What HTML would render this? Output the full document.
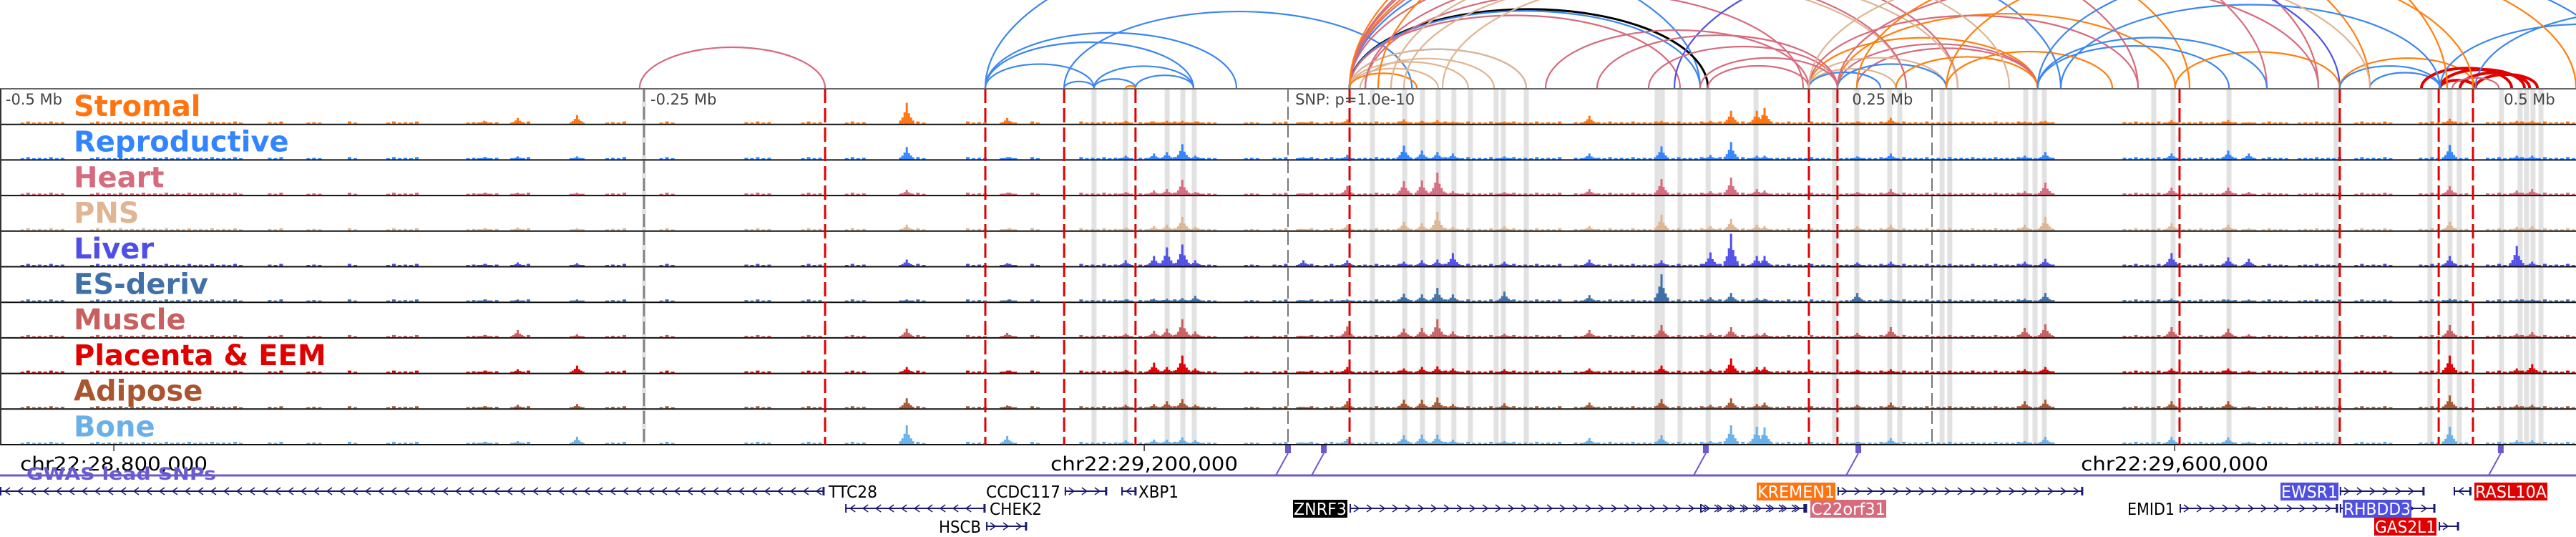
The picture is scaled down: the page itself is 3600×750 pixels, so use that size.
<!DOCTYPE html>
<html><head><meta charset="utf-8"><style>
html,body{margin:0;padding:0;background:#fff;}
svg{display:block;}
</style></head>
<body>
<svg id="chart" xmlns="http://www.w3.org/2000/svg" width="3600" height="750" viewBox="0 0 3600 750"></svg>
<script>
// ---- data ----
const tissues = ["Stromal","Reproductive","Heart","PNS","Liver","ES-deriv","Muscle","Placenta & EEM","Adipose","Bone"];
const tissueColors = ["#ff7410","#3385ff","#d66b7e","#dfb592","#4f4fe6","#4070a8","#c86060","#e00000","#a85530","#6ab0e8"];
const peakKb = [-312,-299,-276,-148,-109,-63,-52,-47,-41,-36,6,23,45,52,58,64,84,117,145,164,172,182,185,221,234,286,294,343,365,373,451,477,483];
const hStromal = [4,8,12,29,8,4,3,4,4,3,2,6,6,4,5,3,3,11,4,4,18,18,22,3,8,3,4,5,5,2,7,4,4];
const hReproductive = [3,4,4,17,3,5,8,10,21,5,3,6,19,12,10,8,4,8,18,6,24,5,5,4,8,5,10,8,12,8,20,5,5];
const hHeart = [2,3,3,7,3,4,6,8,21,4,2,12,19,20,31,5,4,8,22,5,24,8,6,4,8,5,17,10,10,4,12,6,8];
const hPNS = [2,4,3,8,2,4,6,8,19,5,2,8,12,10,26,5,6,6,22,6,16,8,6,6,8,8,19,10,8,3,12,5,6];
const hLiver = [3,5,4,9,4,8,14,26,30,8,8,8,6,8,9,18,6,9,8,19,45,14,14,5,6,6,10,18,12,10,14,28,6];
const hES = [2,3,3,3,2,3,4,4,5,8,2,3,11,10,19,10,14,9,38,6,12,5,4,12,3,4,12,4,3,3,4,3,3];
const hMuscle = [3,10,4,12,6,5,9,12,25,8,2,15,12,13,25,8,5,10,17,6,14,5,6,6,14,13,18,14,12,4,17,5,7];
const hPlacenta = [2,5,10,8,3,4,14,8,24,6,2,8,6,8,9,6,5,6,10,5,20,8,8,4,5,5,8,6,6,3,24,6,12];
const hAdipose = [3,5,6,14,4,5,6,10,13,5,2,10,12,12,15,6,7,8,13,5,14,6,8,5,8,10,12,10,10,3,18,5,5];
const hBone = [3,4,10,26,11,5,6,6,9,5,2,7,12,13,13,6,4,8,12,4,26,24,23,3,8,4,10,10,9,3,24,5,5];
const peakHeights = [hStromal,hReproductive,hHeart,hPNS,hLiver,hES,hMuscle,hPlacenta,hAdipose,hBone];
const baseSegKb = [[-492,-476],[-465,-407],[-396,-390],[-381,-376],[-365,-361],[-350,-338],[-319,-306],[-300,-294],[-265,-258],[-244,-239],[-211,-201],[-189,-181],[-172,-164],[-151,-142],[-125,-118],[-111,-106],[-100,-96],[-81,-61],[-58,-28],[-17,-11],[-6,0],[4,11],[14,25],[27,106],[111,164],[167,211],[214,297],[324,346],[347,369],[378,389],[392,408],[414,428],[439,458],[465,500]];
const bandKb = [-75.3,-63.1,-46.9,-40.8,-36.4,32.8,45.3,52.2,58.3,64.4,70.8,80.8,83.6,92.5,143.3,145.3,152.2,163.1,181.7,212.2,220.8,233.6,237.5,253.9,256.9,286.4,290,293.6,336.1,343.6,365.3,406.9,443.3,451.1,454.7,471.1,478.3,480.8,483.3,486.4];
const redLineKb = [-179.7,-117.5,-86.9,-59.2,23.9,202.2,213.3,346.1,408.3,446.7,460];
const grayLineKb = [-250,0,250];
const axisLabels = ["-0.5 Mb","-0.25 Mb","SNP: p=1.0e-10","0.25 Mb","0.5 Mb"];
const axisLabelKb = [-497.8,-247.5,2.8,219,472];
const arcStartKb = [-251.7,-117.5,-117.5,-117.5,-86.9,-86.9,-75.3,-75.3,-59.2,-63,23.9,23.9,23.9,23.9,23.9,23.9,23.9,30,23.9,23.9,23.9,28,23.9,23.9,35,150,163,140,202.2,213.3,213.3,220.8,202.2,202.2,213.3,202.2,291,344.4,408.3,408.3,420,447.2,447.2,440,461,300,447.2,461,455,452,
  23.9,23.9,23.9,60,45,202.2,213.3,236,255.6,100,120,291,-117.5,30,40,202.2,220.8,160,255.6,291];
const arcEndKb   = [-179.7,-75.3,-36.7,160,48.1,-75.3,-59.2,-36.7,-36.7,-59.2,163,92.5,160,300,152.2,260,400,200,58.3,70,92.5,80,50,350,420,408.3,202.2,213.3,291,344.4,291,291,236,255.6,255.6,230,365.3,408.3,461,447.2,447.2,461,480,475,485,447.2,560,600,482,470,
  330,380,450,260,240,330,400,291,320,202.2,213.3,380,-20,240,280,420,460,213.3,500,520];
const arcColorIdx = [2,1,1,1,1,1,1,1,1,0,10,1,1,1,2,2,2,2,3,3,3,3,0,0,0,4,2,2,0,0,2,2,3,3,1,1,1,0,0,1,1,7,7,7,7,1,1,1,7,2,
  2,2,0,3,3,2,2,0,0,2,2,1,1,2,3,3,0,2,0,1];
const arcPalette = ["#ff7f0e","#3c86f0","#d66b7e","#dfb592","#4f4fe6","#4070a8","#c86060","#e00000","#a85530","#6ab0e8","#000000"];
const chrTicks = ["chr22:28,800,000","chr22:29,200,000","chr22:29,600,000"];
const chrTickKb = [-455.8,-55.8,344.2];
const snpKb = [0,13.9,162.2,221.4,470.8];
const geneNames = ["TTC28","CCDC117","XBP1","CHEK2","HSCB","ZNRF3","C22orf31","KREMEN1","EMID1","EWSR1","RHBDD3","RASL10A","GAS2L1"];
const geneRow = [0,0,0,1,2,1,1,0,1,0,1,0,2];
const geneStartKb = [-500,-86.7,-64.7,-171.9,-117.2,23.9,160,213.3,346.1,408.3,408.3,452.5,446.7];
const geneEndKb = [-180.3,-70.6,-59.2,-117.8,-101.7,200.5,201.1,308.3,407.2,440.8,445,459,454.2];
const geneStrand = [-1,1,-1,-1,1,1,1,1,1,1,1,-1,1];
const geneBox = ["","","","","","#000","#d66b7e","#ff7410","","#5050e0","#5050e0","#e00000","#e00000"];
const geneLabelX0 = [1157,1377,1590,1382,1311,1807,2530,2455,2972,3187,3274,3458,3318];
const geneLabelX1 = [1227,1483,1648,1457,1372,1883,2636,2565,3040,3268,3370,3560,3405];

// ---- helpers ----
const NS="http://www.w3.org/2000/svg";
const svg=document.getElementById('chart');
const X = kb => 1800 + kb*3.6;
const TOP=124, TH=49.7, NT=10, BOT=TOP+TH*NT;
function mk(tag, attrs, parent){const e=document.createElementNS(NS,tag);for(const k in attrs)e.setAttribute(k,attrs[k]);(parent||svg).appendChild(e);return e;}

const gBands=mk('g',{});


bandKb.forEach(kb=>{
  const r=mk('rect',{x:X(kb)-3.5,y:TOP,width:7,height:BOT-TOP,fill:'#e2e2e2'},gBands);
  
  
});
mk('rect',{x:X(-250)-3,y:TOP,width:6,height:BOT-TOP,fill:'#e2e2e2'},gBands);

for(let t=0;t<NT;t++){
  const top=TOP+t*TH, base=top+TH-1;
  const g=mk('g',{fill:tissueColors[t]});
  
  
  baseSegKb.forEach(s=>{
    const x0=X(s[0]),x1=X(s[1]);
    for(let x=x0;x<x1;x+=8){ const k=Math.floor(x/8)%4; const hh=k===0?3:(k===2?2:1.5); mk('rect',{x:x,y:base-hh,width:5,height:hh},g); }
  });
  peakKb.forEach((kb,i)=>{
    const h=peakHeights[t][i]; const cx=X(kb);
    const offs=[-9,-6,-3,0,3,6,9], fr=[0.15,0.3,0.55,1,0.5,0.3,0.15];
    offs.forEach((o,j)=>{ const hh=Math.max(1.5,h*fr[j]); mk('rect',{x:cx+o-1.5,y:base-hh,width:3,height:hh},g); });
  });
  const line=mk('line',{x1:0,x2:3600,y1:top+TH,y2:top+TH,stroke:'#111','stroke-width':2});
  
  
  const lbl=mk('text',{x:103,y:top+38,'font-family':'DejaVu Sans, sans-serif','font-weight':'bold','font-size':40,fill:tissueColors[t]});
  lbl.textContent=tissues[t];
  
  
}
mk('line',{x1:0,x2:3600,y1:TOP,y2:TOP,stroke:'#666','stroke-width':2});
mk('line',{x1:1,x2:1,y1:TOP,y2:BOT,stroke:'#333','stroke-width':2});

grayLineKb.forEach(kb=>{
  const l=mk('line',{x1:X(kb),x2:X(kb),y1:TOP,y2:BOT,stroke:'#777','stroke-width':2,'stroke-dasharray':'18 7'});
  
  
});
redLineKb.forEach(kb=>{
  const l=mk('line',{x1:X(kb),x2:X(kb),y1:TOP,y2:BOT,stroke:'#e00000','stroke-width':3,'stroke-dasharray':'20 7'});
  
  
});
axisLabels.forEach((s,i)=>{
  const t=mk('text',{x:X(axisLabelKb[i]),y:TOP+22,'font-family':'DejaVu Sans, sans-serif','font-size':21,fill:'#444'});
  t.textContent=s;
  
  
});

const gArcs=mk('g',{fill:'none'});


arcStartKb.forEach((s,i)=>{
  const a=X(Math.min(s,arcEndKb[i])), b=X(Math.max(s,arcEndKb[i]));
  const rx=(b-a)/2, ry=0.22*(b-a);
  const c=arcPalette[arcColorIdx[i]];
  const p=mk('path',{d:`M${a} ${TOP-1} A${rx} ${ry} 0 0 1 ${b} ${TOP-1}`,stroke:c,'stroke-width':(arcColorIdx[i]===7?4:(arcColorIdx[i]===10?3:2.2))},gArcs);
  
  
});

chrTicks.forEach((s,i)=>{
  const x=X(chrTickKb[i]);
  mk('line',{x1:x,x2:x,y1:BOT,y2:BOT+9,stroke:'#333','stroke-width':1.5});
  const t=mk('text',{x:x,y:657,'text-anchor':'middle','font-family':'DejaVu Sans, sans-serif','font-size':27,fill:'#000',textLength:262,lengthAdjust:'spacingAndGlyphs'});
  t.textContent=s;
  
  
});

const gw=mk('line',{x1:0,x2:3600,y1:664,y2:664,stroke:'#6a5acd','stroke-width':3});


const gwl=mk('text',{x:37,y:670,'font-family':'DejaVu Sans, sans-serif','font-weight':'bold','font-size':24,fill:'#6a5acd',textLength:265,lengthAdjust:'spacingAndGlyphs'});
gwl.textContent='GWAS lead SNPs';


snpKb.forEach(kb=>{
  const x=X(kb);
  const r=mk('rect',{x:x-4,y:622,width:8,height:11,fill:'#6a5acd'});
  
  
  mk('line',{x1:x,y1:633,x2:x-17,y2:664,stroke:'#6a5acd','stroke-width':2});
});

const rowY=[686,710,735];
const gGenes=mk('g',{});


geneNames.forEach((n,i)=>{
  const y=rowY[geneRow[i]], x0=X(geneStartKb[i]), x1=X(geneEndKb[i]);
  const g=mk('g',{},gGenes);
  
  
  mk('line',{x1:x0,x2:x1,y1:y,y2:y,stroke:'#1a1a70','stroke-width':2},g);
  mk('line',{x1:x1,x2:x1,y1:y-6,y2:y+6,stroke:'#1a1a70','stroke-width':3},g);
  mk('line',{x1:x0+1,x2:x0+1,y1:y-6,y2:y+6,stroke:'#1a1a70','stroke-width':2},g);
  for(let x=x0+10;x<x1-6;x+=18){
    const d=geneStrand[i]>0?`M${x-4} ${y-5} L${x+3} ${y} L${x-4} ${y+5}`:`M${x+4} ${y-5} L${x-3} ${y} L${x+4} ${y+5}`;
    mk('path',{d:d,fill:'none',stroke:'#1a1a70','stroke-width':1.5},g);
  }
  const lx0=geneLabelX0[i], lx1=geneLabelX1[i];
  if(geneBox[i]) mk('rect',{x:lx0,y:y-12,width:lx1-lx0,height:25,fill:geneBox[i]},g);
  const t=mk('text',{x:lx0+1,y:y+9,'font-family':'DejaVu Sans, sans-serif','font-size':23,fill:geneBox[i]?'#fff':'#000',textLength:lx1-lx0-2,lengthAdjust:'spacingAndGlyphs'},g);
  t.textContent=n;
});
</script>
</body></html>
